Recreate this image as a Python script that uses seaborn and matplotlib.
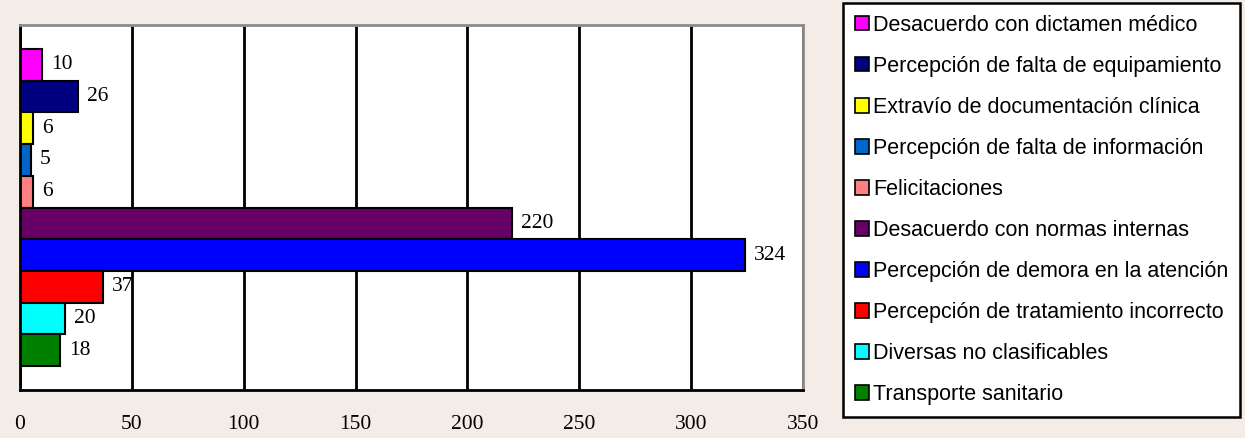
import matplotlib
matplotlib.use("Agg")
import matplotlib.pyplot as plt
from matplotlib.patches import Patch
import seaborn as sns
import pandas as pd

categorias = [
    "Desacuerdo con dictamen médico",
    "Percepción de falta de equipamiento",
    "Extravío de documentación clínica",
    "Percepción de falta de información",
    "Felicitaciones",
    "Desacuerdo con normas internas",
    "Percepción de demora en la atención",
    "Percepción de tratamiento incorrecto",
    "Diversas no clasificables",
    "Transporte sanitario",
]
valores = [10, 26, 6, 5, 6, 220, 324, 37, 20, 18]
colores = ["#FF00FF", "#000080", "#FFFF00", "#0066CC", "#FF8080",
           "#660066", "#0000FF", "#FF0000", "#00FFFF", "#008000"]
x_ticks = [0, 50, 100, 150, 200, 250, 300, 350]

df = pd.DataFrame({"categoria": categorias, "valor": valores})

sns.set_style("white")
plt.rcParams["text.color"] = "black"
plt.rcParams["xtick.color"] = "black"
plt.rcParams["ytick.color"] = "black"

bg = "#f4ede7"
fig = plt.figure(figsize=(12.45, 4.38), dpi=100, facecolor=bg)
ax = fig.add_axes([20 / 1245, 48 / 438, 783 / 1245, 365 / 438])
ax.set_facecolor("white")

sns.barplot(data=df, x="valor", y="categoria", hue="categoria",
            palette=colores, width=1.0, edgecolor="black", linewidth=1.5,
            legend=False, orient="h", ax=ax, saturation=1)

ax.set_xlim(0, 350)
ax.set_ylim(9.5 + 0.76, -0.5 - 0.76)
ax.set_xticks(x_ticks)
ax.set_xticklabels([str(t) for t in x_ticks], family="Liberation Serif", fontsize=15.5)
ax.set_yticks([9.5 + 0.76, -0.5 - 0.76])
ax.set_yticklabels(["", ""])
ax.set_xlabel("")
ax.set_ylabel("")
ax.xaxis.grid(True, color="black", linewidth=2)
ax.set_axisbelow(True)
ax.tick_params(axis="x", direction="out", length=6, width=2, color="black",
               labelcolor="black", pad=12)
ax.tick_params(axis="y", direction="out", length=9, width=2, color="black")

for side in ["left", "bottom"]:
    ax.spines[side].set_color("black")
    ax.spines[side].set_linewidth(2)
for side in ["top", "right"]:
    ax.spines[side].set_color("#8c8c8c")
    ax.spines[side].set_linewidth(2)

for i, v in enumerate(valores):
    ax.text(v + 4, i, str(v), va="center", ha="left",
            family="Liberation Serif", fontsize=15.5, color="black")

handles = [Patch(facecolor=c, edgecolor="black", linewidth=1.2) for c in colores]
leg = fig.legend(handles, categorias, loc="upper left",
                 bbox_to_anchor=(843 / 1245, 1 - 3 / 438),
                 prop={"family": "Liberation Sans", "size": 15.5},
                 frameon=True, fancybox=False, edgecolor="black",
                 framealpha=1, facecolor="white", labelspacing=0.93,
                 handlelength=0.65, handleheight=0.65, handletextpad=0.2,
                 borderpad=0.55, borderaxespad=0, labelcolor="black")
leg.get_frame().set_linewidth(1.8)

fig.savefig("out.png", dpi=100, facecolor=bg)
